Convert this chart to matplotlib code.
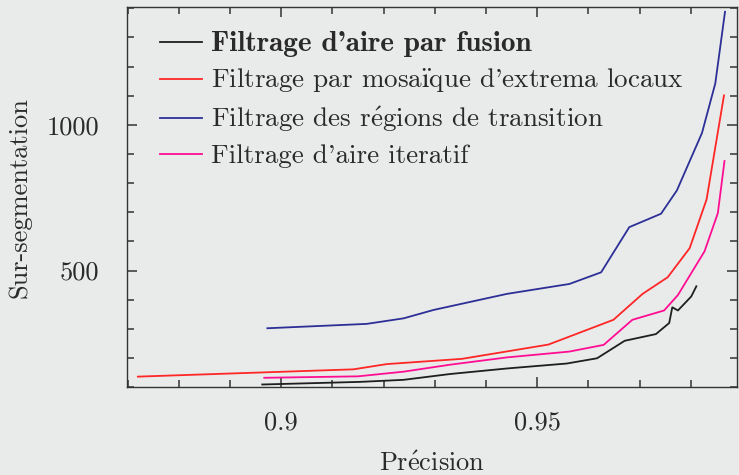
import matplotlib
matplotlib.use("Agg")
import matplotlib.pyplot as plt
from matplotlib.ticker import MultipleLocator

# ── Courbes précision / sur-segmentation ─────────────────────────────────────
fusion_x = [0.8963, 0.9154, 0.9239, 0.9330, 0.9441, 0.9558, 0.9617, 0.9671,
            0.9732, 0.9758, 0.9764, 0.9775, 0.9801, 0.9811]
fusion_y = [109, 118, 125, 145, 164, 181, 199, 259, 282, 320, 374, 363, 411, 446]

mosaique_x = [0.8720, 0.9141, 0.9206, 0.9304, 0.9353, 0.9522, 0.9649, 0.9706,
              0.9755, 0.9798, 0.9831, 0.9865]
mosaique_y = [136, 161, 179, 191, 197, 246, 331, 420, 477, 577, 744, 1101]

transition_x = [0.8973, 0.9167, 0.9239, 0.9298, 0.9441, 0.9563, 0.9625, 0.9680,
                0.9742, 0.9773, 0.9822, 0.9848, 0.9867]
transition_y = [302, 317, 336, 365, 420, 454, 494, 649, 695, 775, 972, 1142, 1388]

iteratif_x = [0.8967, 0.9150, 0.9239, 0.9330, 0.9441, 0.9563, 0.9630, 0.9686,
              0.9748, 0.9775, 0.9827, 0.9853, 0.9866]
iteratif_y = [132, 137, 153, 177, 202, 222, 245, 331, 363, 416, 566, 697, 876]

# accents via mathtext so they come from the Computer Modern fonts too
E_ACUTE = r"$\acute{\mathrm{e}}$"
I_TREMA = r"$\ddot{\mathrm{ı}}$"
labels = ["Filtrage d'aire par fusion",
          "Filtrage par mosa" + I_TREMA + "que d'extrema locaux",
          "Filtrage des r" + E_ACUTE + "gions de transition",
          "Filtrage d'aire iteratif"]
colors = ["#1e1e1e", "#ff2626", "#2c2f96", "#ff0d92"]

# ── Style ────────────────────────────────────────────────────────────────────
BG = "#e9eaea"
TXT = "#2a2a2a"
plt.rcParams["font.family"] = ["cmr10", "DejaVu Serif"]
plt.rcParams["mathtext.fontset"] = "cm"
plt.rcParams["font.size"] = 19
plt.rcParams["axes.formatter.use_mathtext"] = True

fig = plt.figure(figsize=(7.39, 4.75), dpi=100)
fig.patch.set_facecolor(BG)
ax = fig.add_axes([0.172, 0.185, 0.825, 0.800])
ax.set_facecolor(BG)

series = [(fusion_x, fusion_y), (mosaique_x, mosaique_y),
          (transition_x, transition_y), (iteratif_x, iteratif_y)]
for (xs, ys), lab, c in zip(series, labels, colors):
    ax.plot(xs, ys, color=c, lw=1.3, label=lab)

ax.set_xlim(0.8699, 0.989)
ax.set_ylim(100, 1404)

ax.set_xticks([0.9, 0.95], labels=["0.9", "0.95"])
ax.set_yticks([500, 1000], labels=["500", "1000"])
ax.xaxis.set_minor_locator(MultipleLocator(0.01))
ax.yaxis.set_minor_locator(MultipleLocator(100))
ax.tick_params(which="both", direction="in", top=True, right=True,
               color="#333333", width=1.1)
ax.tick_params(which="major", length=7, labelcolor=TXT)
ax.tick_params(which="minor", length=4.8)
ax.tick_params(axis="x", which="major", pad=17)
ax.tick_params(axis="y", which="major", pad=20)
for sp in ax.spines.values():
    sp.set_color("#333333")
    sp.set_linewidth(1.0)

ax.set_xlabel("Pr" + E_ACUTE + "cision", color=TXT, labelpad=12.5)
ax.set_ylabel("Sur-segmentation", color=TXT, labelpad=11)

leg = ax.legend(loc="upper left", bbox_to_anchor=(0.0, 1.022), frameon=False,
                handlelength=1.55, handletextpad=0.36, labelspacing=0.36,
                borderaxespad=0.8, fontsize=19.5)
for t in leg.get_texts():
    t.set_color(TXT)
leg.get_texts()[0].set_fontfamily(["cmb10", "DejaVu Serif"])
leg.get_texts()[0].set_fontsize(21)

fig.savefig("out.png", dpi=100, facecolor=fig.get_facecolor())
